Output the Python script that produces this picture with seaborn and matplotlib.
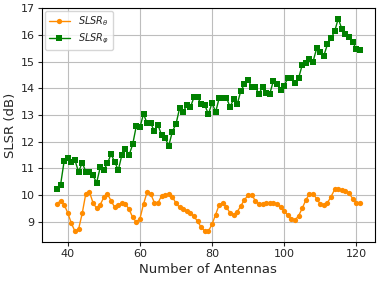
import numpy as np
import pandas as pd
import seaborn as sns
import matplotlib
matplotlib.use("Agg")
import matplotlib.pyplot as plt

# number of antennas on the x axis
antennas = list(range(37, 122))

# SLSR (dB), theta component
slsr_theta = [
    9.66, 9.79, 9.64, 9.33, 8.94, 8.64, 8.72, 9.31, 10.05, 10.12,
    9.71, 9.50, 9.64, 9.91, 10.04, 9.79, 9.54, 9.64, 9.69, 9.66,
    9.47, 9.16, 8.99, 9.11, 9.66, 10.11, 10.04, 9.72, 9.70, 9.97,
    10.00, 10.04, 9.94, 9.69, 9.54, 9.47, 9.40, 9.33, 9.20, 9.01,
    8.79, 8.65, 8.65, 8.90, 9.27, 9.64, 9.71, 9.54, 9.33, 9.27,
    9.37, 9.60, 9.82, 10.00, 10.00, 9.79, 9.66, 9.66, 9.69, 9.71,
    9.71, 9.66, 9.56, 9.40, 9.24, 9.09, 9.06, 9.22, 9.50, 9.81,
    10.04, 10.04, 9.87, 9.66, 9.63, 9.71, 9.94, 10.21, 10.21, 10.19,
    10.15, 10.06, 9.87, 9.71, 9.69,
]

# SLSR (dB), phi component
slsr_phi = [
    10.23, 10.38, 11.28, 11.40, 11.23, 11.30, 10.87, 11.21, 10.88, 10.88,
    10.74, 10.46, 11.04, 10.94, 11.19, 11.53, 11.25, 10.93, 11.50, 11.72,
    11.50, 11.90, 12.59, 12.54, 13.04, 12.69, 12.69, 12.40, 12.63, 12.25,
    12.13, 11.85, 12.38, 12.66, 13.25, 13.12, 13.37, 13.29, 13.67, 13.66,
    13.41, 13.37, 13.03, 13.46, 13.11, 13.65, 13.65, 13.65, 13.30, 13.60,
    13.41, 13.92, 14.15, 14.32, 14.05, 14.06, 13.79, 14.06, 13.82, 13.79,
    14.28, 14.16, 13.94, 14.10, 14.38, 14.38, 14.19, 14.38, 14.88, 14.94,
    15.10, 15.00, 15.50, 15.35, 15.23, 15.65, 15.88, 16.14, 16.62, 16.22,
    16.03, 15.94, 15.75, 15.46, 15.44,
]

df = pd.DataFrame({"N": antennas, "theta": slsr_theta, "phi": slsr_phi})

sns.set_style("whitegrid")
plt.rcParams["axes.edgecolor"] = "black"
plt.rcParams["grid.color"] = "#bdbdbd"
plt.rcParams["xtick.bottom"] = True
plt.rcParams["ytick.left"] = True

fig, ax = plt.subplots(figsize=(3.8, 2.81), dpi=100)
fig.subplots_adjust(left=0.11, right=0.987, top=0.972, bottom=0.139)

sns.lineplot(data=df, x="N", y="theta", ax=ax, color="darkorange",
             marker="o", markersize=3.8, markeredgewidth=0, linewidth=1,
             label=r"$SLSR_{\theta}$")
sns.lineplot(data=df, x="N", y="phi", ax=ax, color="green",
             marker="s", markersize=3.8, markeredgewidth=0, linewidth=1,
             label=r"$SLSR_{\varphi}$")

ax.set_yticks(np.arange(9, 18, 1))
ax.set_xticks([40, 60, 80, 100, 120])
ax.tick_params(labelsize=8, length=3, width=0.8, pad=2)
ax.set_xlabel("Number of Antennas", fontsize=9.5, labelpad=3)
ax.set_ylabel("SLSR (dB)", fontsize=9.5, labelpad=3)
for s in ax.spines.values():
    s.set_linewidth(0.8)

ax.legend(loc="upper left", fontsize=7, frameon=True, handlelength=2.2,
          borderpad=0.4, labelspacing=0.3, borderaxespad=0.3)

fig.savefig("out.png", dpi=100)
